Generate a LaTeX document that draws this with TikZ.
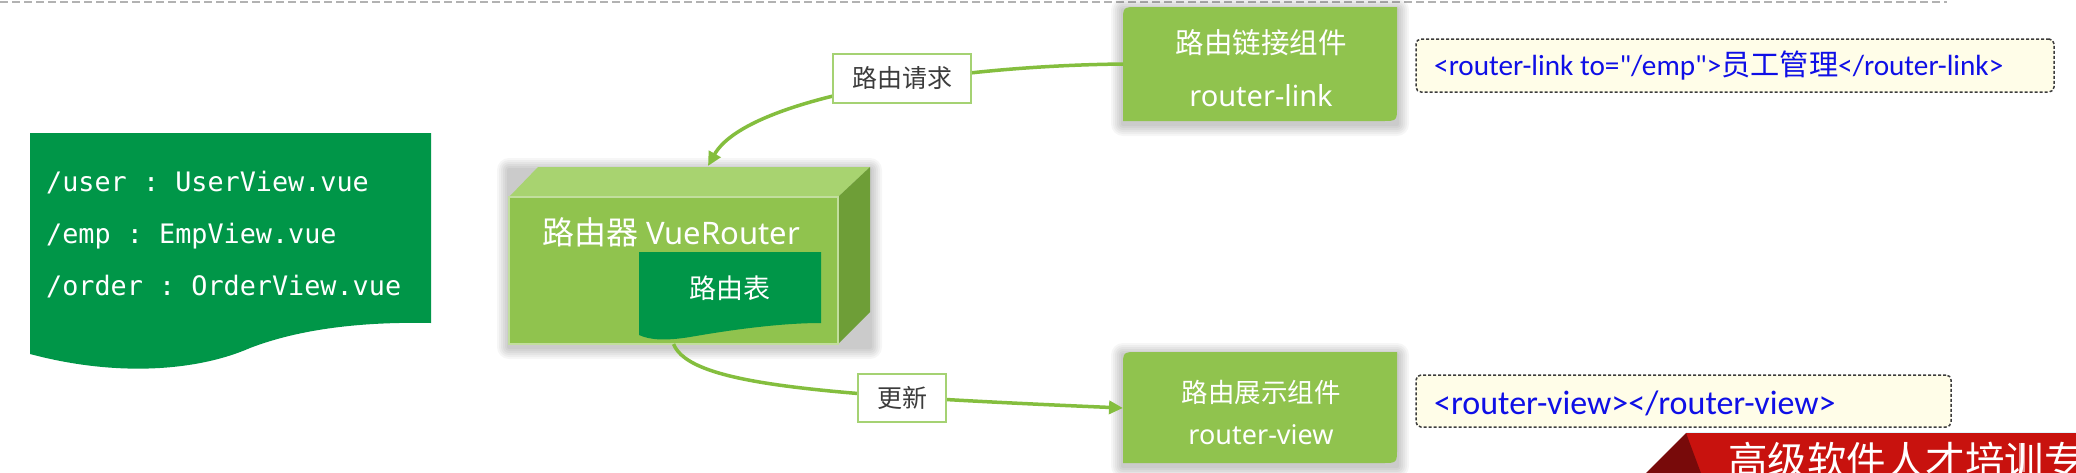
\documentclass[tikz,border=0pt]{standalone}
\usepackage{fontspec}
\setmainfont{Noto Sans}
\newfontfamily\cjk{Noto Sans CJK SC}
\newfontfamily\latf{Noto Sans}
\newfontfamily\calf{Carlito}
\newfontfamily\monof{DejaVu Sans Mono}
\usetikzlibrary{arrows.meta,calc}
\frenchspacing
\definecolor{dgreen}{RGB}{0,150,72}
\definecolor{lgreen}{RGB}{144,195,78}
\definecolor{topg}{RGB}{168,211,112}
\definecolor{sideg}{RGB}{110,158,55}
\definecolor{cgreen}{RGB}{132,190,62}
\definecolor{lblb}{RGB}{165,210,115}
\definecolor{lbltxt}{RGB}{60,60,60}
\definecolor{codeb}{RGB}{60,60,60}
\definecolor{codefill}{RGB}{255,253,232}
\definecolor{codeblue}{RGB}{15,15,230}
\definecolor{bred}{RGB}{200,18,14}
\definecolor{bdark}{RGB}{120,10,10}
\newcommand\softshadow[4]{%
  \foreach \s in {12,10,...,2}{%
    \fill[black,opacity=0.035,rounded corners=\s pt] (#1-\s,#2-\s+3) rectangle (#3+\s,#4+\s+3);}}
\tikzset{
  conn/.style={draw=cgreen, line width=3.5pt, -{Triangle[length=14pt,width=13pt]}},
  lbl/.style={draw=lblb, line width=1.5pt, fill=white, inner sep=0pt, text=lbltxt,
    font=\cjk\fontsize{25}{25}\selectfont},
  gtext/.style={text=white, inner sep=0pt},
  ghost/.style={inner sep=0pt, outer sep=0pt},
  codebox/.style={draw=codeb, fill=codefill, dash pattern=on 3pt off 2pt, line width=1.5pt,
    rounded corners=5pt, inner sep=0pt},
  codetext/.style={text=codeblue, inner sep=0pt, anchor=west},
  monoline/.style={text=white, inner sep=0pt, anchor=west,
    font=\monof\fontsize{26.8}{26.8}\selectfont},
}
\begin{document}
\begin{tikzpicture}[x=1pt,y=-1pt]
\useasboundingbox (0,0) rectangle (2076,472);
\fill[white] (0,0) rectangle (2076,472);

% top dashed rule
\draw[gray!60, line width=2pt, dash pattern=on 8pt off 4pt] (0,2) -- (1947,2);

% left route document
\fill[dgreen] (30,133) -- (431,133) -- (431,323)
  .. controls (380,322) and (310,325) .. (250,348)
  .. controls (200,370) and (120,378) .. (30,354) -- cycle;
\node[monoline] (r1) at (46,183) {/user : UserView.vue};
\node[monoline] (r2) at (46,236) {/emp : EmpView.vue};
\node[monoline] (r3) at (46,287) {/order : OrderView.vue};

% router 3D box
\softshadow{509}{167}{870}{344}
\fill[topg] (509,197) -- (538,167) -- (870,167) -- (838,197) -- cycle;
\fill[sideg] (838,197) -- (870,167) -- (870,312) -- (838,344) -- cycle;
\fill[lgreen, draw=white!45!lgreen, line width=1.5pt] (509,197) rectangle (838,344);
\node[ghost, minimum width=329pt, minimum height=147pt] (router) at (673.5,270.5) {};
\coordinate (rtop) at (708,166);
\node[gtext] (rname) at (671,232) {{\cjk\fontsize{32}{32}\selectfont 路由器}\hspace{8pt}{\latf\fontsize{31}{31}\selectfont VueRouter}};
% route table inside
\fill[dgreen] (639,252) -- (821,252) -- (821,323)
  .. controls (780,323) and (730,330) .. (690,337)
  .. controls (665,341) and (650,340) .. (639,335) -- cycle;
\node[gtext, font=\cjk\fontsize{27}{27}\selectfont] (rtab) at (730,288) {路由表};

% router-link component
\softshadow{1123}{7}{1397}{121}
\fill[lgreen] (1123,121) -- (1123,22) .. controls (1123,7) .. (1138,7) -- (1397,7)
  -- (1397,106) .. controls (1397,121) .. (1382,121) -- cycle;
\node[ghost, minimum width=274pt, minimum height=114pt] (rl) at (1260,64) {};
\node[gtext, font=\cjk\fontsize{28.5}{28.5}\selectfont] (rlt1) at (1261,43) {路由链接组件};
\node[gtext, font=\latf\fontsize{29}{29}\selectfont] (rlt2) at (1261,96) {router-link};

% router-view component
\softshadow{1123}{352}{1397}{463}
\fill[lgreen] (1123,463) -- (1123,367) .. controls (1123,352) .. (1138,352) -- (1397,352)
  -- (1397,448) .. controls (1397,463) .. (1382,463) -- cycle;
\node[ghost, minimum width=274pt, minimum height=111pt] (rv) at (1260,408) {};
\node[gtext, font=\cjk\fontsize{26.5}{26.5}\selectfont] (rvt1) at (1261,392) {路由展示组件};
\node[gtext, font=\latf\fontsize{27}{27}\selectfont] (rvt2) at (1261,435) {router-view};

% connectors
\draw[conn] (rl.west) .. controls (940,66) and (745,100) .. (rtop);
\node[lbl, minimum width=138pt, minimum height=49pt] (req) at (902,78.5) {路由请求};
\draw[conn] (router.south) .. controls (690,385) and (820,395) .. (rv.west);
\node[lbl, minimum width=88pt, minimum height=48pt] (upd) at (902,398) {更新};

% code boxes
\node[codebox, minimum width=638pt, minimum height=53pt] (c1) at (1735,65.5) {};
\node[codetext, font=\calf\fontsize{29.2}{29.2}\selectfont] (c1t) at (1434,66)
  {<router-link to="/emp">{\cjk 员工管理}</router-link>};
\node[codebox, minimum width=535pt, minimum height=52pt] (c2) at (1683.5,401) {};
\node[codetext, font=\calf\fontsize{34}{34}\selectfont] (c2t) at (1434,403)
  {<router-view></router-view>};

% banner
\begin{scope}
\clip (0,0) rectangle (2076,472);
\fill[bred] (1686,433) rectangle (2080,476);
\fill[bdark] (1643,476) -- (1686,433) -- (1702,476) -- cycle;
\draw[cyan!12, line width=1.5pt] (1686,432.5) -- (2080,432.5);
\node[text=white, inner sep=0pt, anchor=west, font=\cjk\fontsize{39.5}{39.5}\selectfont] (ban) at (1728,460) {高级软件人才培训专};
\fill[white, opacity=0.55] (2019,443) rectangle (2025,472);
\end{scope}
\end{tikzpicture}
\end{document}
